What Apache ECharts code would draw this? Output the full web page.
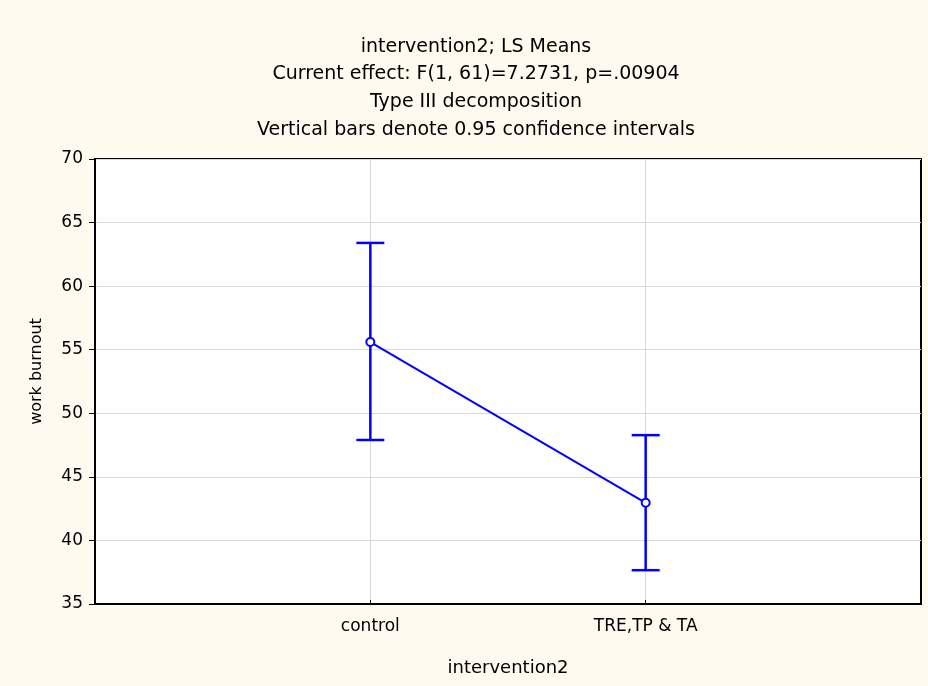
<!DOCTYPE html>
<html>
<head>
<meta charset="utf-8">
<script src="https://cdn.jsdelivr.net/npm/echarts@6/dist/echarts.min.js"></script>
<style>
html,body{margin:0;padding:0;background:#FFFAF0;}
#chart{width:928px;height:686px;}
</style>
</head>
<body>
<div id="chart"></div>
<script>
var categories = ['', 'control', 'TRE,TP & TA', ''];
var groups = ['control', 'TRE,TP & TA'];
var means = [55.6, 42.96];
var lowerCI = [47.9, 37.66];
var upperCI = [63.4, 48.28];
var yTicks = [35, 40, 45, 50, 55, 60, 65, 70];
var titleLines = [
  'intervention2; LS Means',
  'Current effect: F(1, 61)=7.2731, p=.00904',
  'Type III decomposition',
  'Vertical bars denote 0.95 confidence intervals'
];

var FONT = 'DejaVu Sans';
var chart = echarts.init(document.getElementById('chart'), null, {renderer: 'canvas'});

var meanData = groups.map(function (g, i) { return [g, means[i]]; });
var ciData = groups.map(function (g, i) { return [g, lowerCI[i], upperCI[i]]; });
var realCat = function (idx, val) { return val !== ''; };

var option = {
  backgroundColor: '#FFFAF0',
  animation: false,
  title: {
    text: titleLines.join('\n'),
    left: 471,
    top: 28,
    textAlign: 'center',
    textStyle: {fontFamily: FONT, fontSize: 19, fontWeight: 'normal', color: '#000', lineHeight: 27.7}
  },
  grid: {
    left: 95, right: 7, top: 159, bottom: 82,
    show: true, backgroundColor: '#fff', borderColor: '#000', borderWidth: 2
  },
  xAxis: {
    type: 'category',
    data: categories,
    boundaryGap: false,
    name: 'intervention2',
    nameLocation: 'middle',
    nameGap: 55,
    nameTextStyle: {fontFamily: FONT, fontSize: 18, color: '#000'},
    axisLine: {show: true, lineStyle: {color: '#000', width: 2}},
    axisTick: {show: true, inside: true, length: 4, interval: realCat, lineStyle: {color: '#000'}},
    axisLabel: {fontFamily: FONT, fontSize: 17, color: '#000', margin: 14, interval: realCat},
    splitLine: {show: true, interval: realCat, lineStyle: {color: '#d8d8d8', width: 1}}
  },
  yAxis: {
    type: 'value',
    min: 35, max: 70, interval: 5,
    name: 'work burnout',
    nameLocation: 'middle',
    nameGap: 50,
    nameTextStyle: {fontFamily: FONT, fontSize: 16, color: '#000', padding: [0, 0, 0, 20]},
    axisLine: {show: true, lineStyle: {color: '#000', width: 2}},
    axisTick: {show: true, length: 6, lineStyle: {color: '#000'}},
    axisLabel: {fontFamily: FONT, fontSize: 17, color: '#000', margin: 12,
      formatter: function (v) { return yTicks.indexOf(v) >= 0 ? String(v) : ''; }},
    splitLine: {show: true, lineStyle: {color: '#d8d8d8', width: 1}}
  },
  series: [
    {
      type: 'custom',
      data: ciData,
      z: 3,
      renderItem: function (params, api) {
        var x = api.value(0);
        var lo = api.coord([x, api.value(1)]);
        var hi = api.coord([x, api.value(2)]);
        var hw = 14;
        var st = {stroke: '#0000FF', lineWidth: 2.5, fill: null};
        return {
          type: 'group',
          children: [
            {type: 'line', shape: {x1: lo[0], y1: lo[1], x2: hi[0], y2: hi[1]}, style: st},
            {type: 'line', shape: {x1: hi[0] - hw, y1: hi[1], x2: hi[0] + hw, y2: hi[1]}, style: st},
            {type: 'line', shape: {x1: lo[0] - hw, y1: lo[1], x2: lo[0] + hw, y2: lo[1]}, style: st}
          ]
        };
      }
    },
    {
      type: 'line',
      data: meanData,
      z: 4,
      symbol: 'circle',
      symbolSize: 8,
      showAllSymbol: true,
      lineStyle: {color: '#0000FF', width: 2},
      itemStyle: {color: '#fff', borderColor: '#0000FF', borderWidth: 2}
    }
  ]
};
chart.setOption(option);
</script>
</body>
</html>
